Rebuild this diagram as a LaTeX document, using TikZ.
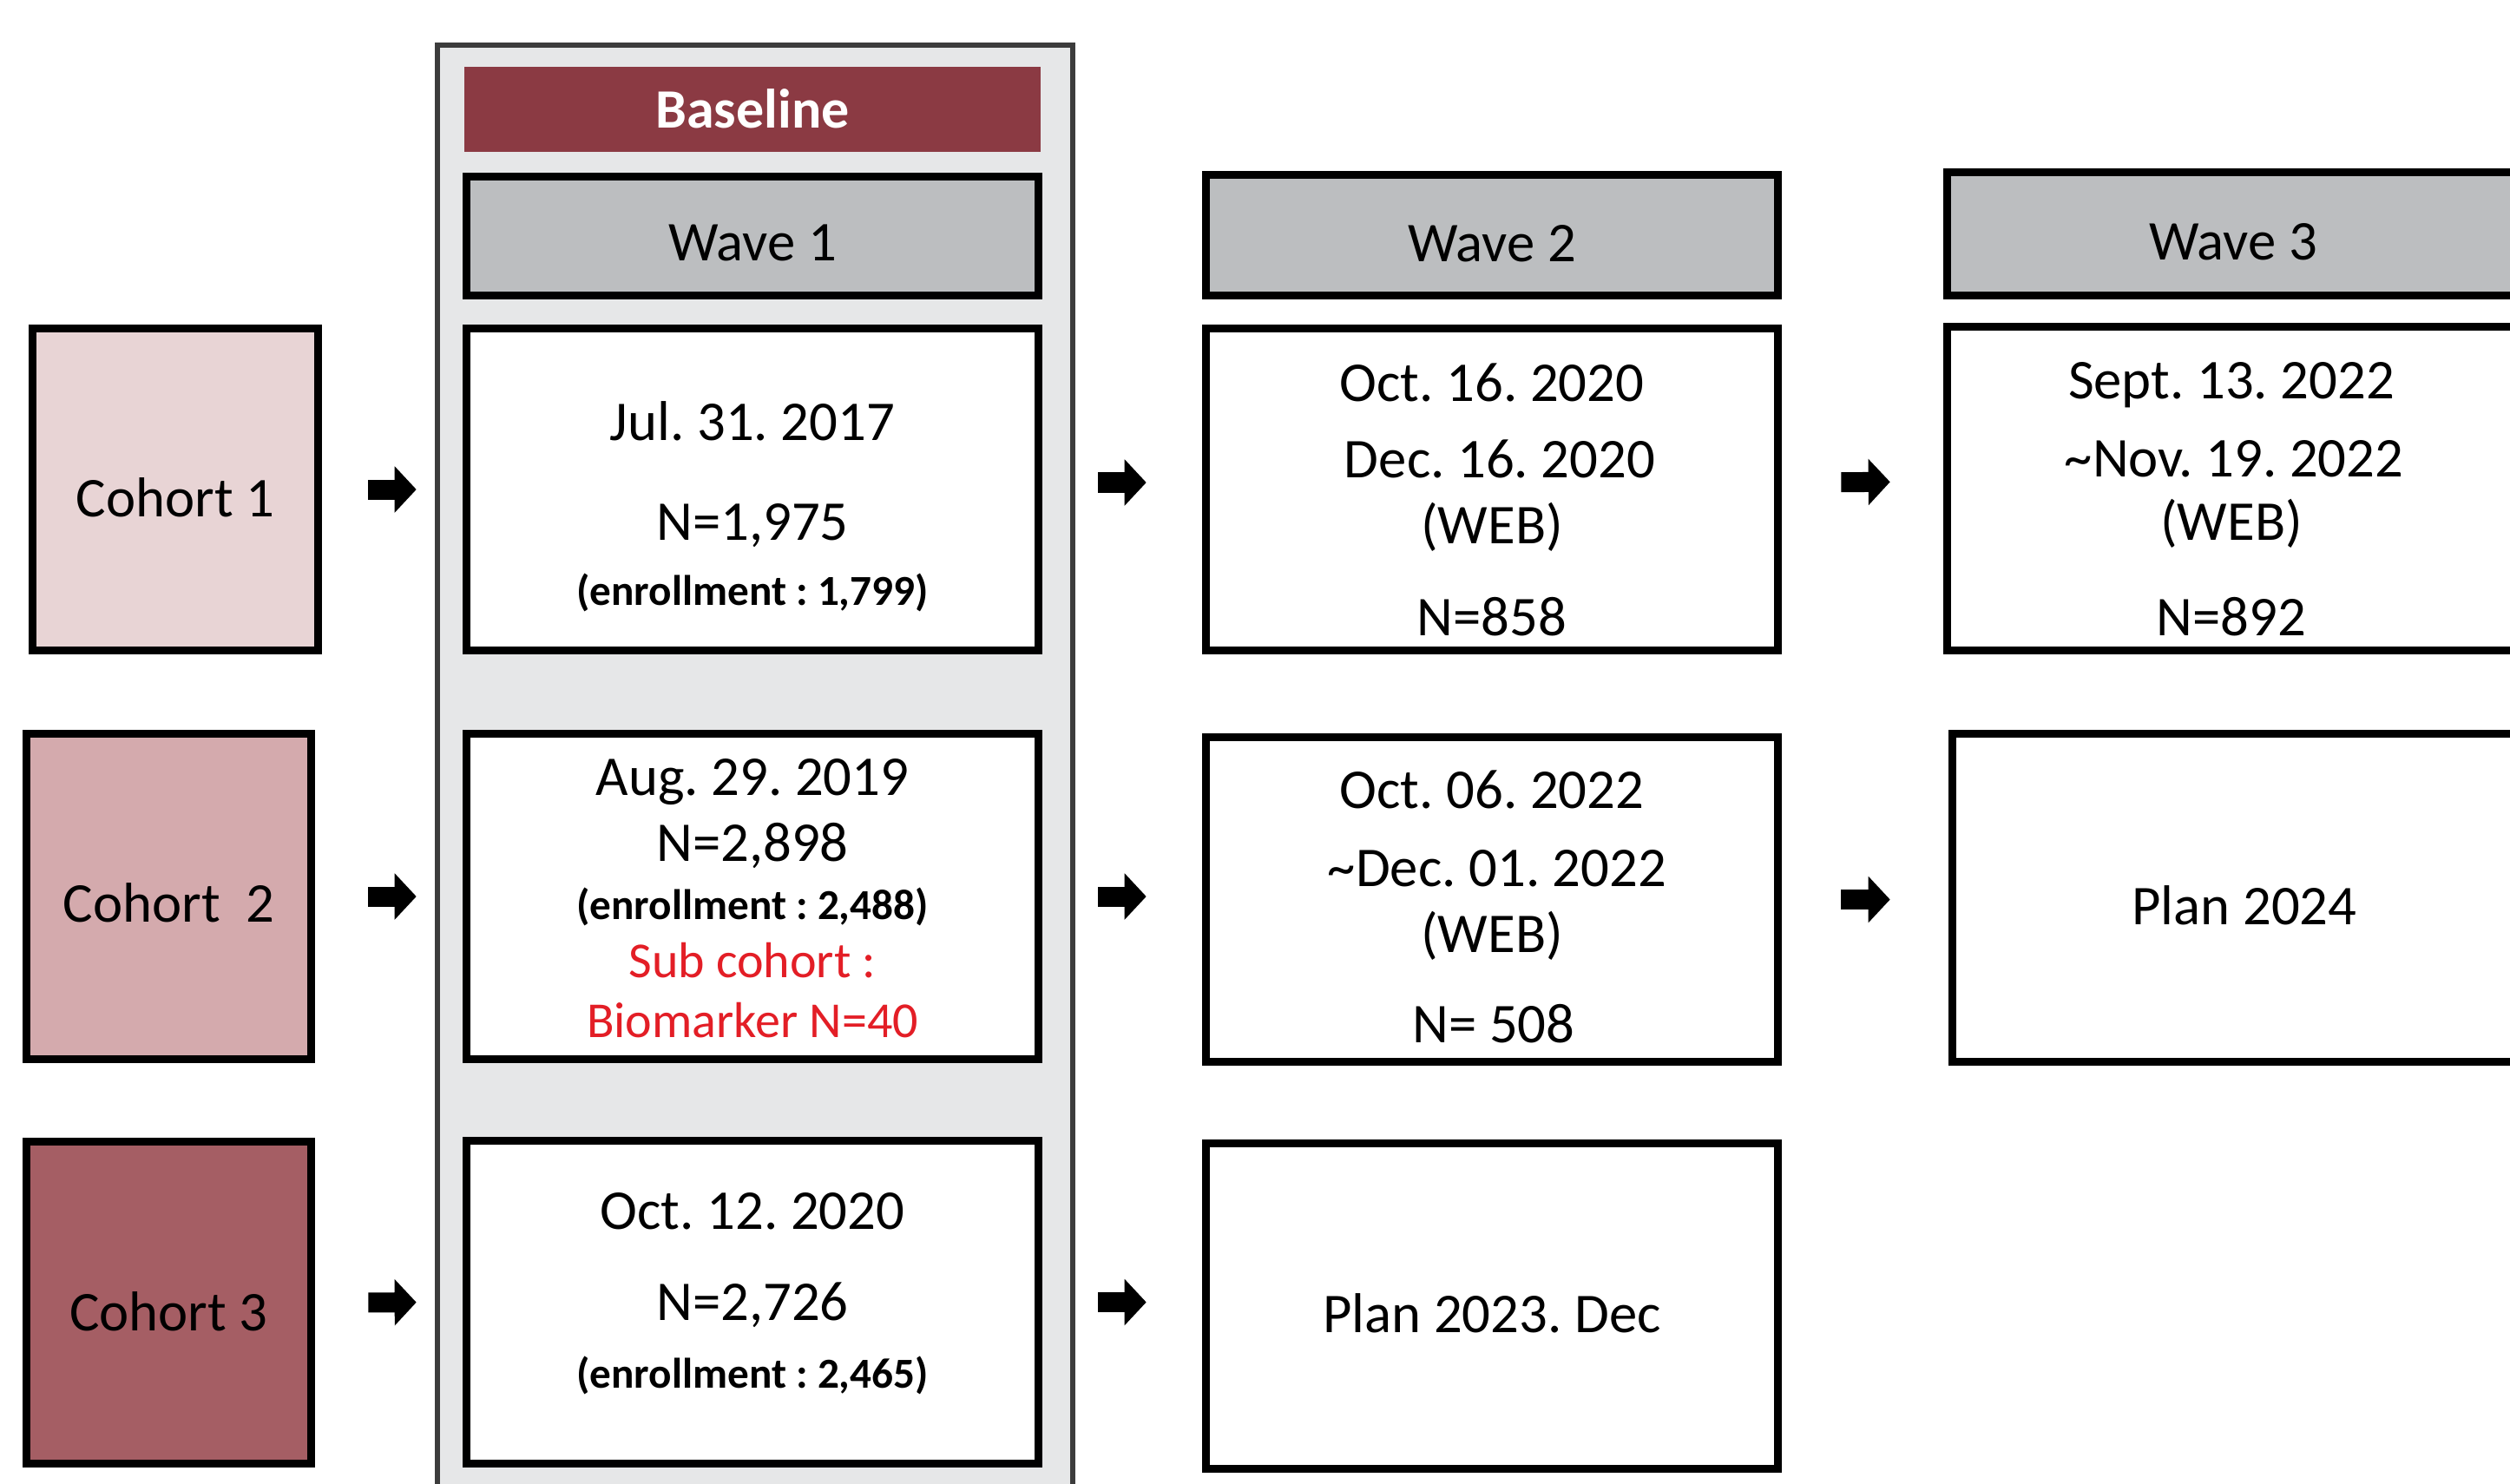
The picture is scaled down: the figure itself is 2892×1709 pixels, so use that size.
\documentclass[tikz,border=0pt]{standalone}
\usepackage{fontspec}
\setmainfont{Carlito}
\frenchspacing
\usetikzlibrary{arrows.meta}
\definecolor{panelgray}{HTML}{E6E7E8}
\definecolor{paneledge}{HTML}{3C3C3C}
\definecolor{hdrgray}{HTML}{BCBEC0}
\definecolor{basered}{HTML}{8B3A43}
\definecolor{cohA}{HTML}{E8D4D5}
\definecolor{cohB}{HTML}{D4AAAD}
\definecolor{cohC}{HTML}{A55E64}
\definecolor{subred}{HTML}{E31E26}
\begin{document}
\begin{tikzpicture}[x=0.01cm, y=-0.01cm,
  box/.style={draw=black, line width=2.6pt, fill=white, inner sep=0pt, minimum width=6.59cm},
  hdr/.style={box, fill=hdrgray},
  coh/.style={draw=black, line width=2.7pt, inner sep=0pt},
  txt/.style={anchor=base, inner sep=0pt, font=\fontsize{18.4}{22}\selectfont},
  smalltxt/.style={anchor=base, inner sep=0pt, font=\fontsize{14}{16}\selectfont\bfseries},
  redtxt/.style={anchor=base, inner sep=0pt, text=subred, font=\fontsize{16.5}{20}\selectfont},
  barrow/.style={draw=black, line width=0.23cm, -{Triangle[width=0.52cm,length=0.25cm]}}
]
\useasboundingbox (0,0) rectangle (2892,1709);
\clip (0,0) rectangle (2892,1709);
\fill[white] (0,0) rectangle (2892,1709);

% baseline panel
\node[draw=paneledge, fill=panelgray, line width=0.06cm, inner sep=0pt,
      minimum width=7.32cm, minimum height=16.78cm] (panel) at (870,891) {};
\node[fill=basered, inner sep=0pt, minimum width=6.64cm, minimum height=0.98cm] (basebar) at (867,126) {};
\node[txt, text=white, font=\fontsize{18.2}{22}\selectfont\bfseries] (baselbl) at (867,147) {Baseline};

% headers
\node[hdr, minimum height=1.37cm] (w1h) at (867,272) {};
\node[hdr, minimum height=1.39cm] (w2h) at (1719,271) {};
\node[hdr, minimum height=1.42cm] (w3h) at (2573,269.5) {};
\node[txt] (w1hl) at (867,300) {Wave 1};
\node[txt] (w2hl) at (1719,301) {Wave 2};
\node[txt] (w3hl) at (2573,299) {Wave 3};

% cohorts
\node[coh, fill=cohA, minimum width=3.29cm, minimum height=3.71cm] (c1) at (202,564) {};
\node[coh, fill=cohB, minimum width=3.28cm, minimum height=3.75cm] (c2) at (194.5,1033) {};
\node[coh, fill=cohC, minimum width=3.28cm, minimum height=3.71cm] (c3) at (194.5,1501) {};
\node[txt] (c1l) at (202,595) {Cohort 1};
\node[txt] (c2l) at (194.5,1062) {Cohort~~2};
\node[txt] (c3l) at (194.5,1533) {Cohort 3};

% wave boxes
\node[box, minimum height=3.71cm] (w1r1) at (867,564) {};
\node[box, minimum height=3.71cm] (w2r1) at (1719,564) {};
\node[box, minimum height=3.73cm] (w3r1) at (2573,563) {};
\node[box, minimum height=3.75cm] (w1r2) at (867,1033) {};
\node[box, minimum height=3.74cm] (w2r2) at (1719,1036.5) {};
\node[box, minimum width=6.73cm, minimum height=3.78cm] (w3r2) at (2586,1034.5) {};
\node[box, minimum height=3.72cm] (w1r3) at (867,1500.5) {};
\node[box, minimum height=3.75cm] (w2r3) at (1719,1505) {};

% texts row 1
\node[txt] (a1) at (867,507) {Jul. 31. 2017};
\node[txt] (a2) at (867,622) {N=1,975};
\node[smalltxt] (a3) at (867,697) {(enrollment : 1,799)};
\node[txt] (b1) at (1719,462) {Oct. 16. 2020};
\node[txt] (b2) at (1728,550) {Dec. 16. 2020};
\node[txt] (b3) at (1719,626) {(WEB)};
\node[txt] (b4) at (1719,732) {N=858};
\node[txt] (d1) at (2571,459) {Sept. 13. 2022};
\node[txt] (d2) at (2574,549) {\textasciitilde Nov. 19. 2022};
\node[txt] (d3) at (2571,622) {(WEB)};
\node[txt] (d4) at (2571,732) {N=892};

% texts row 2
\node[txt] (e1) at (867,916) {Aug. 29. 2019};
\node[txt] (e2) at (867,992) {N=2,898};
\node[smalltxt] (e3) at (867,1059) {(enrollment : 2,488)};
\node[redtxt] (e4) at (867,1126) {Sub cohort :};
\node[redtxt] (e5) at (867,1195) {Biomarker N=40};
\node[txt] (f1) at (1719,931) {Oct. 06. 2022};
\node[txt] (f2) at (1725,1021) {\textasciitilde Dec. 01. 2022};
\node[txt] (f3) at (1719,1097) {(WEB)};
\node[txt] (f4) at (1721,1201) {N= 508};
\node[txt] (g1) at (2586,1065) {Plan 2024};

% texts row 3
\node[txt] (h1) at (867,1416) {Oct. 12. 2020};
\node[txt] (h2) at (867,1521) {N=2,726};
\node[smalltxt] (h3) at (867,1599) {(enrollment : 2,465)};
\node[txt] (k1) at (1719,1535) {Plan 2023. Dec};

% arrows
\draw[barrow, shorten <=0.53cm, shorten >=0.53cm] (c1.east) -- (w1r1.west);
\draw[barrow, shorten <=0.61cm, shorten >=0.53cm] (c2.east) -- (w1r2.west);
\draw[barrow, shorten <=0.61cm, shorten >=0.53cm] (c3.east) -- (w1r3.west);
\draw[barrow, shorten <=0.64cm, shorten >=0.64cm] ([yshift=0.08cm]w1r1.east) -- ([yshift=0.08cm]w2r1.west);
\draw[barrow, shorten <=0.64cm, shorten >=0.64cm] (w1r2.east) -- (w2r2.west |- w1r2.east);
\draw[barrow, shorten <=0.64cm, shorten >=0.64cm] (w1r3.east) -- (w2r3.west |- w1r3.east);
\draw[barrow, shorten <=0.68cm, shorten >=0.61cm] ([yshift=0.08cm]w2r1.east) -- ([yshift=0.08cm]w3r1.west);
\draw[barrow, shorten <=0.68cm, shorten >=0.67cm] (w2r2.east) -- (w3r2.west |- w2r2.east);
\end{tikzpicture}
\end{document}
